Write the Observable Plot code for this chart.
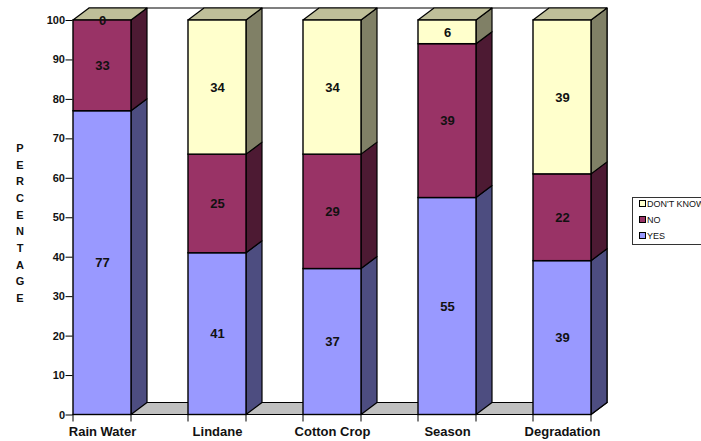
<!DOCTYPE html>
<html>
<head>
<meta charset="utf-8">
<script src="https://cdn.jsdelivr.net/npm/d3@7"></script>
<script src="https://cdn.jsdelivr.net/npm/@observablehq/plot@0.6"></script>
<style>
  html, body { margin: 0; padding: 0; background: #fff; overflow: hidden; }
  #chart { position: relative; width: 701px; height: 441px; overflow: hidden; }
  #chart svg { display: block; }
  .legend { position: absolute; left: 632px; top: 197px; width: 80px; height: 48px; box-sizing: border-box;
    border: 1px solid #333; background: #fff; font: 9px "Liberation Sans", Arial, sans-serif; color: #111; }
  .legend div { position: absolute; left: 6px; white-space: nowrap; line-height: 10px; }
  .legend i { display: inline-block; width: 5px; height: 5px; border: 1px solid #000; margin-right: 1px; vertical-align: 0; }
  .ytitle { position: absolute; left: 14px; top: 140px; width: 12px; text-align: center;
    font: bold 11px/16.67px "Liberation Sans", Arial, sans-serif; color: #111; }
</style>
</head>
<body>
<div id="chart"></div>
<script>
const categories = ["Rain Water", "Lindane", "Cotton Crop", "Season", "Degradation"];
const yes = [77, 41, 37, 55, 39];
const no = [33, 25, 29, 39, 22];
const dontKnow = [0, 34, 34, 6, 39];
const seriesNames = ["YES", "NO", "DON'T KNOW"];
const seriesValues = [yes, no, dontKnow];
const front = ["#9999FF", "#993366", "#FFFFCC"];
const side = ["#4D4D80", "#4D1A33", "#808066"];
const yTicks = [0, 10, 20, 30, 40, 50, 60, 70, 80, 90, 100];
const yTitle = "PERCENTAGE";

// Stack the answers per category; the axis stops at 100, so segments are clamped there.
const segments = categories.flatMap((category, c) => {
  let base = 0;
  return seriesValues.map((values, s) => {
    const y1 = base, y2 = base + values[c];
    base = y2;
    return {category, series: seriesNames[s], s, value: values[c], y1, y2,
            mid: (Math.min(y1, 100) + Math.min(y2, 100)) / 2};
  });
});

// Oblique projection offset of the box depth.
const depthX = 16, depthY = -12;
const ink = "#000";

function poly(g, pts, fill, strokeWidth = 1.2) {
  g.append("polygon").attr("points", pts.map(p => p.join(",")).join(" "))
    .attr("fill", fill).attr("stroke", ink).attr("stroke-width", strokeWidth).attr("stroke-linejoin", "round");
}

// Back wall and floor of the box behind the columns.
function room(index, {x, y}) {
  const g = d3.create("svg:g");
  const w = x.bandwidth();
  const x0 = x(categories[0]), x1 = x(categories[categories.length - 1]) + w;
  const y0 = y(0), yT = y(100);
  poly(g, [[x0 + depthX, y0 + depthY], [x1 + depthX, y0 + depthY], [x1 + depthX, yT + depthY], [x0 + depthX, yT + depthY]], "#fff");
  poly(g, [[x0, y0], [x1, y0], [x1 + depthX, y0 + depthY], [x0 + depthX, y0 + depthY]], "#C0C0C0");
  return g.node();
}

// Side and top faces of each stacked column.
function faces(index, {x, y}) {
  const g = d3.create("svg:g");
  const w = x.bandwidth();
  for (const d of segments) {
    if (d.value === 0) continue;
    const r = x(d.category) + w, a = y(d.y1), b = y(d.y2);
    poly(g, [[r, a], [r + depthX, a + depthY], [r + depthX, b + depthY], [r, b]], side[d.s]);
  }
  for (const category of categories) {
    const l = x(category), b = y(100);
    poly(g, [[l, b], [l + w, b], [l + w + depthX, b + depthY], [l + depthX, b + depthY]], "#BFBF99");
  }
  return g.node();
}

// Tick marks at both edges of every column.
function edgeTicks(index, {x, y}) {
  const g = d3.create("svg:g").attr("stroke", ink).attr("stroke-width", 1);
  for (const category of categories) {
    for (const e of [x(category), x(category) + x.bandwidth()]) {
      g.append("line").attr("x1", e).attr("x2", e).attr("y1", y(0)).attr("y2", y(0) + 7);
    }
  }
  return g.node();
}

const chart = Plot.plot({
  width: 701,
  height: 441,
  marginLeft: 72.5,
  marginRight: 111,
  marginTop: 20,
  marginBottom: 26.5,
  style: {background: "#fff", fontFamily: "'Liberation Sans', Arial, sans-serif"},
  x: {type: "band", domain: categories, paddingInner: 0.5, paddingOuter: 0, align: 0},
  y: {domain: [0, 100], clamp: true},
  marks: [
    room,
    faces,
    Plot.barY(segments, {
      x: "category", y1: "y1", y2: "y2",
      fill: d => front[d.s], stroke: ink, strokeWidth: 1.4
    }),
    Plot.ruleY([0], {x1: categories[0], stroke: ink, strokeWidth: 1.6}),
    edgeTicks,
    Plot.axisY({ticks: yTicks, tickFormat: d => d, label: null, tickSize: 7, tickPadding: 1,
                fontSize: 11, fontWeight: "bold", fill: "#111", stroke: ink}),
    Plot.axisX({label: null, tickSize: 0, tickPadding: 12, fontSize: 13, fontWeight: "bold", fill: "#111"}),
    Plot.text(segments, {
      x: "category", y: "mid", text: d => String(d.value),
      fontSize: 13, fontWeight: "bold", fill: "#111"
    })
  ]
});

const host = document.getElementById("chart");
host.appendChild(chart);

// Vertical axis title, one letter per row.
const title = document.createElement("div");
title.className = "ytitle";
title.innerHTML = yTitle.split("").join("<br>");
host.appendChild(title);

// Legend, last series first.
const legend = document.createElement("div");
legend.className = "legend";
[2, 1, 0].forEach((s, i) => {
  const row = document.createElement("div");
  row.style.top = (1 + i * 16) + "px";
  const swatch = document.createElement("i");
  swatch.style.background = front[s];
  row.append(swatch, seriesNames[s]);
  legend.appendChild(row);
});
host.appendChild(legend);
</script>
</body>
</html>
